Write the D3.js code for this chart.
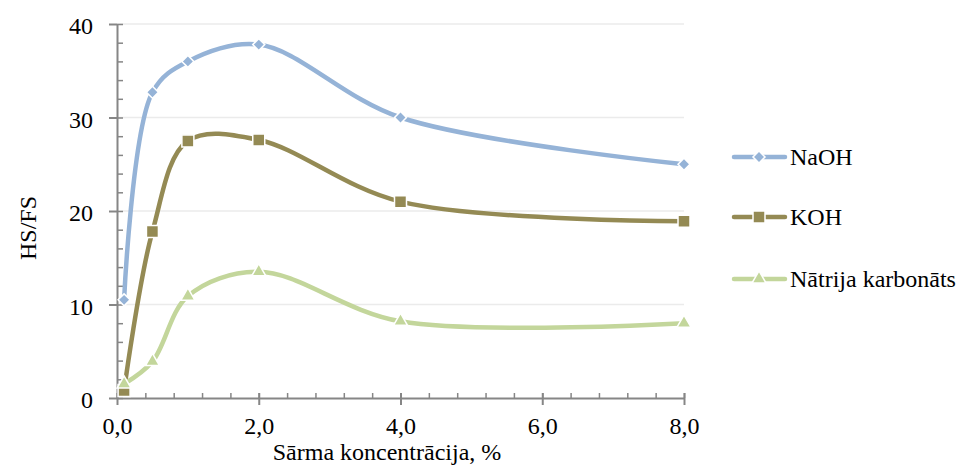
<!DOCTYPE html>
<html>
<head>
<meta charset="utf-8">
<script src="https://cdn.jsdelivr.net/npm/d3@7"></script>
<style>
  html, body { margin: 0; padding: 0; background: #fff; }
  svg { display: block; }
</style>
</head>
<body>
<svg id="chart" width="978" height="465"></svg>
<script>
// Alkali concentration (%) and HS/FS ratio for each reagent
const concentrations = [0.1, 0.5, 1.0, 2.0, 4.0, 8.0];
const naohValues = [10.5, 32.7, 36.0, 37.8, 30.0, 25.0];
const kohValues = [0.8, 17.8, 27.5, 27.6, 21.0, 18.9];
const carbonateValues = [1.5, 3.9, 10.9, 13.5, 8.2, 8.0];
const seriesNames = ["NaOH", "KOH", "Nātrija karbonāts"];
const xTickValues = [0, 2, 4, 6, 8];
const yTickValues = [0, 10, 20, 30, 40];

const series = [
  { name: seriesNames[0], values: naohValues, color: "#95B3D7", symbol: d3.symbolSquare, size: 72, rot: 45 },
  { name: seriesNames[1], values: kohValues, color: "#948A54", symbol: d3.symbolSquare, size: 144, rot: 0 },
  { name: seriesNames[2], values: carbonateValues, color: "#C3D69B", symbol: d3.symbolTriangle, size: 85, rot: 0 }
];

const svg = d3.select("#chart");
const margin = { left: 117, right: 294, top: 24, bottom: 67 };
const width = 978, height = 465;
const serif = "'Liberation Serif', Tinos, 'Nimbus Roman', 'Nimbus Roman No9 L', 'Noto Serif', 'DejaVu Serif', FreeSerif, Times, serif";

const x = d3.scaleLinear().domain([0, 8]).range([margin.left, width - margin.right]);
const y = d3.scaleLinear().domain([0, 40]).range([height - margin.bottom, margin.top]);

const axisColor = "#868686";

// horizontal gridlines
svg.append("g").selectAll("line")
  .data(yTickValues.filter(v => v > 0))
  .join("line")
  .attr("x1", x(0)).attr("x2", x(8))
  .attr("y1", d => y(d)).attr("y2", d => y(d))
  .attr("stroke", "#EBEBEB").attr("stroke-width", 1.5);

// y axis: minor ticks inside, major ticks crossing
const yAxisG = svg.append("g");
yAxisG.append("g")
  .attr("transform", `translate(${x(0)},0)`)
  .call(d3.axisRight(y).tickValues(d3.range(0, 41, 2)).tickSize(6).tickFormat(""))
  .call(g => g.select(".domain").remove())
  .call(g => g.selectAll("line").attr("stroke", axisColor).attr("stroke-width", 1.5));
yAxisG.append("g")
  .attr("transform", `translate(${x(0)},0)`)
  .call(d3.axisLeft(y).tickValues(yTickValues).tickSize(8).tickPadding(16).tickSizeOuter(0))
  .attr("font-family", null)
  .call(g => g.select(".domain").attr("stroke", axisColor).attr("stroke-width", 2))
  .call(g => g.selectAll("line").attr("stroke", axisColor).attr("stroke-width", 2))
  .call(g => g.selectAll("text").attr("font-size", 24).attr("fill", "#000").attr("dy", "0.4em")
    .style("font-family", serif));

// x axis
const xAxisG = svg.append("g");
xAxisG.append("g")
  .attr("transform", `translate(0,${y(0)})`)
  .call(d3.axisTop(x).tickValues(d3.range(0, 8.01, 0.4)).tickSize(5).tickFormat(""))
  .call(g => g.select(".domain").remove())
  .call(g => g.selectAll("line").attr("stroke", axisColor).attr("stroke-width", 1.5));
xAxisG.append("g")
  .attr("transform", `translate(0,${y(0)})`)
  .call(d3.axisBottom(x).tickValues(xTickValues).tickSize(7).tickPadding(12).tickSizeOuter(0)
    .tickFormat(d => d3.format(".1f")(d).replace(".", ",")))
  .attr("font-family", null)
  .call(g => g.select(".domain").attr("stroke", axisColor).attr("stroke-width", 2))
  .call(g => g.selectAll("line").attr("stroke", axisColor).attr("stroke-width", 2).attr("y1", -5))
  .call(g => g.selectAll("text").attr("font-size", 24).attr("fill", "#000")
    .style("font-family", serif));

// axis titles
svg.append("text")
  .attr("x", 387).attr("y", 460)
  .style("font-family", serif)
  .attr("text-anchor", "middle").attr("font-size", 24).attr("fill", "#000")
  .text("Sārma koncentrācija, %");
svg.append("text")
  .attr("transform", `translate(36,228) rotate(-90)`)
  .style("font-family", serif)
  .attr("text-anchor", "middle").attr("font-size", 24).attr("fill", "#000")
  .text("HS/FS");

// smoothed series lines
const line = d3.line()
  .x(d => x(d[0])).y(d => y(d[1]))
  .curve(d3.curveCatmullRom.alpha(0.5));

const plot = svg.append("g");
series.forEach(s => {
  const pts = concentrations.map((c, i) => [c, s.values[i]]);
  plot.append("path")
    .datum(pts)
    .attr("d", line)
    .attr("fill", "none")
    .attr("stroke", s.color)
    .attr("stroke-width", 4.5)
    .attr("stroke-linecap", "round");
});
series.forEach(s => {
  const pts = concentrations.map((c, i) => [c, s.values[i]]);
  plot.append("g").selectAll("path")
    .data(pts)
    .join("path")
    .attr("transform", d => `translate(${x(d[0])},${y(d[1])}) rotate(${s.rot})`)
    .attr("d", d3.symbol().type(s.symbol).size(s.size))
    .attr("fill", s.color)
    .attr("stroke", "#fff")
    .attr("stroke-width", 1.5);
});

// legend
const legend = svg.append("g");
const legendY = [157, 217, 279];
series.forEach((s, i) => {
  const g = legend.append("g").attr("transform", `translate(0,${legendY[i]})`);
  g.append("line")
    .attr("x1", 734).attr("x2", 785).attr("y1", 0).attr("y2", 0)
    .attr("stroke", s.color).attr("stroke-width", 4.5).attr("stroke-linecap", "round");
  g.append("path")
    .attr("transform", `translate(759,0) rotate(${s.rot})`)
    .attr("d", d3.symbol().type(s.symbol).size(s.size))
    .attr("fill", s.color).attr("stroke", "#fff").attr("stroke-width", 1.5);
  g.append("text")
    .attr("x", 790).attr("y", 0).attr("dy", "0.35em")
    .style("font-family", serif)
    .attr("font-size", 24).attr("fill", "#000")
    .text(s.name);
});
</script>
</body>
</html>
